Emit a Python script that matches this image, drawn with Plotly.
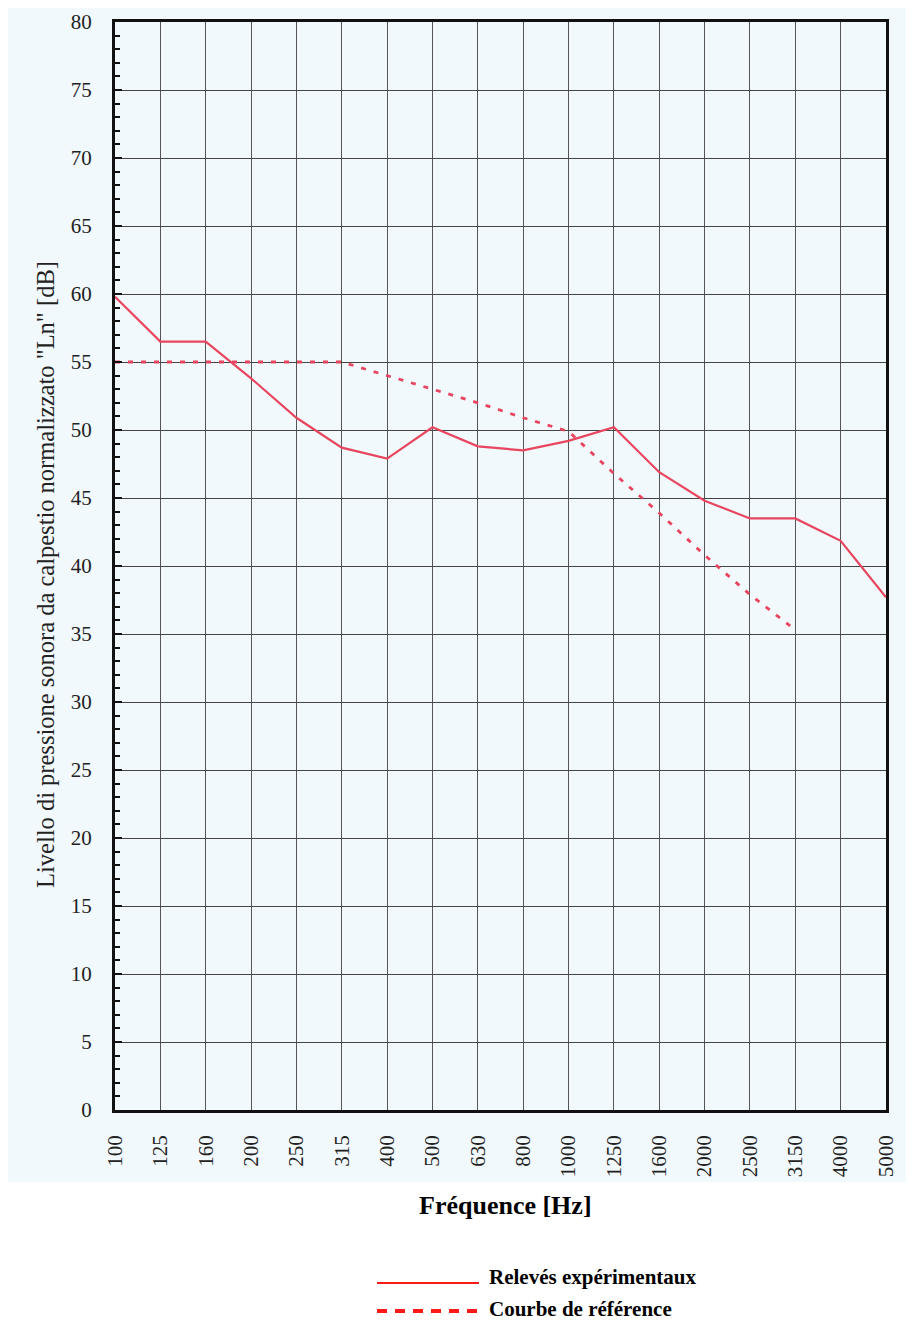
import plotly.graph_objects as go

# ---- data ----
frequencies = ["100", "125", "160", "200", "250", "315", "400", "500", "630",
               "800", "1000", "1250", "1600", "2000", "2500", "3150", "4000", "5000"]
releves = [59.8, 56.5, 56.5, 53.8, 50.9, 48.7, 47.9, 50.2, 48.8,
           48.5, 49.2, 50.2, 46.9, 44.8, 43.5, 43.5, 41.85, 37.7]
ref_freqs = ["100", "125", "160", "200", "250", "315", "400", "500", "630",
             "800", "1000", "1250", "1600", "2000", "2500", "3150"]
reference = [55.0, 55.0, 55.0, 55.0, 55.0, 55.0, 54.0, 53.0, 52.0,
             50.9, 49.9, 46.8, 43.9, 40.8, 37.9, 35.3]
y_ticks = list(range(0, 81, 5))

name_exp = "Relevés expérimentaux"
name_ref = "Courbe de référence"
x_title = "Fréquence [Hz]"
y_title = 'Livello di pressione sonora da calpestio normalizzato "Ln" [dB]'

SERIF = "Liberation Serif, Times New Roman, serif"
LINE_RED = "#e8455e"

fig = go.Figure()
fig.add_trace(go.Scatter(x=frequencies, y=releves, mode="lines", name=name_exp,
                         line=dict(color=LINE_RED, width=2.2), showlegend=False))
fig.add_trace(go.Scatter(x=ref_freqs, y=reference, mode="lines", name=name_ref,
                         line=dict(color=LINE_RED, width=2.8, dash="5px,8px"),
                         showlegend=False))

# page is 914x1323; the html body adds an 8px offset
OFF = 8
W, H = 914 - OFF, 1323 - OFF
# plot area in page pixels: left 115, right 886, top 22, bottom 1110
L, T = 115 - OFF, 22 - OFF
R = W - (886 - OFF)
B = H - (1110 - OFF)
pw, ph = W - L - R, H - T - B


def px(xp):
    return (xp - OFF - L) / pw


def py(yp):
    return (H - B - (yp - OFF)) / ph


shapes = [
    # scanned-page tint
    dict(type="rect", xref="paper", yref="paper", layer="below",
         x0=px(8), x1=px(914), y0=py(1182), y1=py(8),
         fillcolor="#f2f9fc", line=dict(width=0)),
    # legend glyphs
    dict(type="line", xref="paper", yref="paper",
         x0=px(377), x1=px(479), y0=py(1283), y1=py(1283),
         line=dict(color="#ff1a1a", width=2)),
    dict(type="line", xref="paper", yref="paper",
         x0=px(377), x1=px(479), y0=py(1311), y1=py(1311),
         line=dict(color="#ff1a1a", width=4, dash="10px,8px")),
]

annotations = [
    dict(text=y_title, xref="paper", yref="paper", x=px(45), y=py(575),
         xanchor="center", yanchor="middle", textangle=-90, showarrow=False,
         font=dict(family=SERIF, size=24.5, color="#222")),
    dict(text="<b>" + x_title + "</b>", xref="paper", yref="paper",
         x=px(505), y=py(1205), xanchor="center", yanchor="middle",
         showarrow=False, font=dict(family=SERIF, size=26, color="#000")),
    dict(text="<b>" + name_exp + "</b>", xref="paper", yref="paper",
         x=px(487), y=py(1277), xanchor="left", yanchor="middle",
         showarrow=False, font=dict(family=SERIF, size=21, color="#000")),
    dict(text="<b>" + name_ref + "</b>", xref="paper", yref="paper",
         x=px(487), y=py(1309), xanchor="left", yanchor="middle",
         showarrow=False, font=dict(family=SERIF, size=21, color="#000")),
]

fig.update_layout(
    width=W, height=H,
    margin=dict(l=L, r=R, t=T, b=B, autoexpand=False),
    paper_bgcolor="white",
    plot_bgcolor="rgba(0,0,0,0)",
    showlegend=False,
    shapes=shapes,
    annotations=annotations,
    xaxis=dict(
        type="category", categoryorder="array", categoryarray=frequencies,
        range=[0, len(frequencies) - 1],
        showgrid=True, gridcolor="#555", gridwidth=1,
        showline=True, linecolor="#111", linewidth=2.5, mirror=True,
        ticks="", tickangle=-90, ticklabelstandoff=14,
        tickfont=dict(family=SERIF, size=21, color="#222"),
        zeroline=False, automargin=False,
    ),
    yaxis=dict(
        range=[0, 80], tickmode="array", tickvals=y_ticks,
        showgrid=True, gridcolor="#444", gridwidth=1,
        showline=True, linecolor="#111", linewidth=3, mirror=True,
        ticks="inside", ticklen=7, tickwidth=2, tickcolor="#111",
        minor=dict(dtick=1, ticks="inside", ticklen=5, tickwidth=2,
                   tickcolor="#111", showgrid=False),
        ticklabelstandoff=16,
        tickfont=dict(family=SERIF, size=21, color="#222"),
        zeroline=False, automargin=False,
    ),
)

fig.write_html("out.html")
